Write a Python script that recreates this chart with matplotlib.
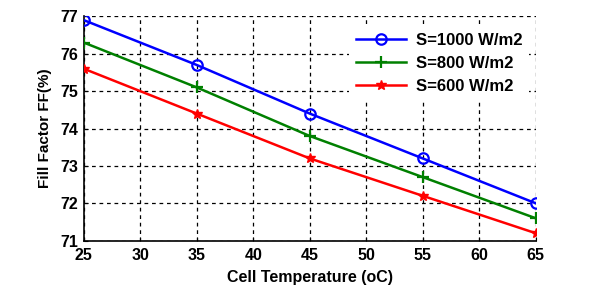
import matplotlib
matplotlib.use("Agg")
import matplotlib.pyplot as plt

temps = [25, 35, 45, 55, 65]
ff_1000 = [76.9, 75.7, 74.4, 73.2, 72.0]
ff_800 = [76.3, 75.1, 73.8, 72.7, 71.6]
ff_600 = [75.6, 74.4, 73.2, 72.2, 71.2]
labels = ["S=1000 W/m2", "S=800 W/m2", "S=600 W/m2"]
xticks = [25, 30, 35, 40, 45, 50, 55, 60, 65]
yticks = [71, 72, 73, 74, 75, 76, 77]

plt.rcParams['font.family'] = ['Liberation Sans', 'DejaVu Sans']
fig = plt.figure(figsize=(5.98, 3.03), dpi=100)
ax = fig.add_axes([0.140, 0.2056, 0.756, 0.7404])

ax.plot(temps, ff_1000, color=(0, 0, 1), lw=1.8, marker='o', ms=7.5,
        mfc='none', mec=(0, 0, 1), mew=1.6, label=labels[0], zorder=3)
ax.plot(temps, ff_800, color=(0, 0.5, 0), lw=1.8, marker='+', ms=9,
        mew=1.6, label=labels[1], zorder=3)
ax.plot(temps, ff_600, color=(1, 0, 0), lw=1.8, marker='*', ms=7,
        mew=1.0, label=labels[2], zorder=3)

ax.set_xlim(25, 65)
ax.set_ylim(71, 77)
ax.set_xticks(xticks)
ax.set_yticks(yticks)
ax.grid(True, ls=(0, (3, 3)), color='black', lw=0.9)
for s in ['top', 'right']:
    ax.spines[s].set_visible(False)
for s in ['left', 'bottom']:
    ax.spines[s].set_linewidth(1.2)
ax.tick_params(direction='in', length=3, labelsize=11.5)
ax.tick_params(axis='x', pad=5)
ax.tick_params(axis='y', pad=4)
for t in ax.get_xticklabels() + ax.get_yticklabels():
    t.set_fontweight('bold')
ax.set_xlabel("Cell Temperature (oC)", fontsize=11.5, fontweight='bold', labelpad=5)
ax.set_ylabel("Fill Factor FF(%)", fontsize=11, fontweight='bold', labelpad=6)

leg = ax.legend(loc='upper right', bbox_to_anchor=(0.985, 0.955), frameon=True,
                fontsize=12, handlelength=3.0, handletextpad=0.6,
                labelspacing=0.48, borderaxespad=0)
leg.get_frame().set_edgecolor('none')
leg.get_frame().set_facecolor('white')
leg.get_frame().set_alpha(1)
for t in leg.get_texts():
    t.set_fontweight('bold')

fig.savefig("out.png", dpi=100)
